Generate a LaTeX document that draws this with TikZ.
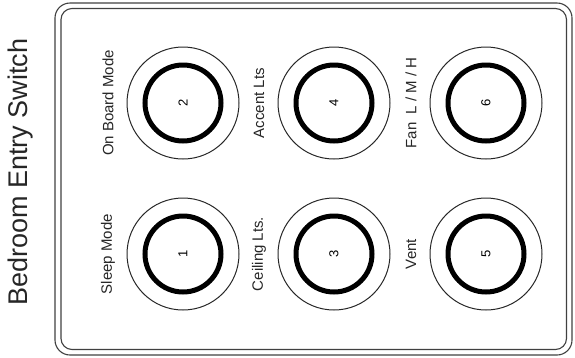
\documentclass[tikz,border=0pt]{standalone}
\usepackage{fontspec}
\setmainfont{Liberation Sans}
\usepackage{tikz}
\usetikzlibrary{positioning}

\begin{document}
\begin{tikzpicture}[
  x=1pt, y=-1pt,
  bezel/.style={circle, draw=black!85, line width=1pt, minimum size=112pt, inner sep=0pt},
  ring/.style={circle, draw=black, line width=5pt, minimum size=76pt, inner sep=0pt, rotate=90, font=\fontsize{13}{15}\selectfont},
  key label/.style={rotate=90, inner sep=0pt, text=black!85, font=\fontsize{15}{17}\selectfont},
  plate/.style={draw=black!75, line width=1.1pt}
]
  \useasboundingbox (0,0) rectangle (575,357);

  % Face plate (double outline)
  \draw[plate, rounded corners=15pt] (55,3) rectangle (572,355);
  \draw[plate, rounded corners=11pt] (61,8.5) rectangle (566.5,349.5);

  \node[rotate=90, inner sep=0pt, text=black!85, font=\fontsize{27}{30}\selectfont] (title) at (21,172) {Bedroom Entry Switch};

  % Buttons, top row
  \node[bezel] (b2) at (183,103) {};
  \node[ring]  (k2) at (b2) {2};
  \node[bezel] (b4) at (334,103) {};
  \node[ring]  (k4) at (b4) {4};
  \node[bezel] (b6) at (486,103) {};
  \node[ring]  (k6) at (b6) {6};

  % Buttons, bottom row
  \node[bezel] (b1) at (183,254) {};
  \node[ring]  (k1) at (b1) {1};
  \node[bezel] (b3) at (334,254) {};
  \node[ring]  (k3) at (b3) {3};
  \node[bezel] (b5) at (486,254) {};
  \node[ring]  (k5) at (b5) {5};

  % Button labels
  \node[key label] (l2) at (108,103) {On Board Mode};
  \node[key label] (l4) at (259,103) {Accent Lts};
  \node[key label] (l6) at (411,103) {Fan~~L / M / H};
  \node[key label] (l1) at (108,254) {Sleep Mode};
  \node[key label] (l3) at (259,254) {Ceiling Lts.};
  \node[key label] (l5) at (411,254) {Vent};
\end{tikzpicture}
\end{document}
